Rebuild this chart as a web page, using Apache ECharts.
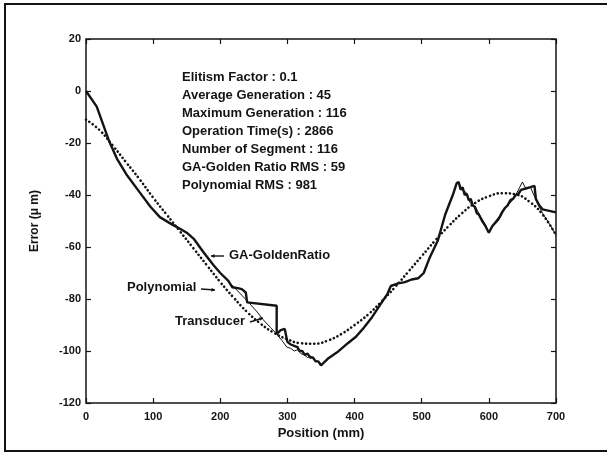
<!DOCTYPE html>
<html>
<head>
<meta charset="utf-8">
<script src="https://cdn.jsdelivr.net/npm/echarts@6/dist/echarts.min.js"></script>
<style>
html, body { margin: 0; padding: 0; background: #fff; }
#main { width: 607px; height: 454px; }
</style>
</head>
<body>
<div id="main"></div>
<script>
// position (mm), error (um)
var transducerData = [
	[0, 0], [16, -6], [34, -19], [46, -26], [60, -32], [80, -39], [96, -44.5], [110, -48.5],
	[126, -51], [140, -53], [150, -54.5], [161, -57], [175, -62], [190, -67], [200, -70],
	[215, -74], [230, -78], [241, -81], [255, -85], [264, -88], [275, -91], [284, -93.5],
	[292, -96], [299, -98.5], [305, -99], [310, -100], [315, -99.5], [320, -101], [325, -101.5],
	[330, -102.5], [335, -102], [340, -103.5], [345, -104], [350, -105.5], [360, -103],
	[374, -100.5], [390, -97], [402, -94.5], [414, -91], [426, -87], [440, -81.5], [449, -78],
	[454, -75], [465, -74], [475, -73.5], [485, -72.5], [495, -72], [503, -70], [512, -64],
	[524, -57.5], [535, -47.5], [547, -39.5], [552, -35.5], [555, -35], [560, -38], [566, -39],
	[572, -43], [580, -44.5], [587, -48], [595, -51.5], [600, -54.5], [606, -52], [614, -50],
	[620, -47], [627, -44], [632, -43], [638, -41], [642, -39], [646, -37], [650, -35],
	[655, -37.5], [662, -37], [667, -40], [674, -44], [680, -47], [690, -51], [700, -55.5]
];
var gaData = [
	[0, 0], [16, -6], [34, -19], [46, -26], [60, -32], [80, -39], [96, -44.5], [110, -48.5],
	[126, -51], [140, -53], [150, -54.5], [161, -57], [175, -62], [190, -67], [200, -70],
	[212, -73], [218, -75.5], [226, -75.8], [232, -76.2], [238, -77.5], [240, -81.3],
	[284, -82.6], [284, -93.5], [290, -92], [296, -91.5], [300, -96.5], [305, -97.5],
	[310, -98], [315, -98.5], [318, -100], [322, -100], [326, -101.5], [330, -101],
	[334, -102.5], [338, -102.5], [342, -104], [346, -104], [350, -105.5], [360, -103],
	[374, -100.5], [390, -97], [402, -94.5], [414, -91], [426, -87], [440, -81.5], [449, -78],
	[454, -75], [465, -74], [475, -73.5], [485, -72.5], [495, -72], [503, -70], [512, -64],
	[524, -57.5], [535, -47.5], [547, -39.5], [552, -35.5], [555, -35], [558, -38], [561, -37],
	[564, -40], [567, -39.5], [570, -42], [573, -41.5], [576, -44], [579, -44.5], [582, -47],
	[585, -47.5], [590, -50], [595, -52], [600, -54.5], [605, -52], [610, -50.5], [613, -49.5],
	[616, -48.5], [620, -46.5], [624, -45], [628, -44], [632, -42], [636, -41.5], [640, -40],
	[644, -39.5], [648, -38], [655, -37.5], [662, -37], [668, -36.5], [670, -41.5],
	[675, -44], [680, -45.5], [700, -46.7]
];
var polyData = [
	[0, -11], [20, -15], [40, -21], [60, -27.5], [80, -34], [100, -41], [120, -47.5],
	[140, -54], [160, -60.5], [180, -67], [200, -73.5], [220, -79.5], [240, -85],
	[260, -89.5], [280, -93], [300, -95.5], [320, -97], [340, -97.2], [360, -96],
	[380, -93.5], [400, -90], [420, -86], [440, -81], [460, -75.5], [480, -69.5],
	[500, -63.5], [520, -57.5], [540, -52], [560, -47], [580, -43], [600, -40.5],
	[620, -39.3], [640, -39.8], [660, -42.5], [680, -47.5], [700, -55.5]
];
var infoLines = [
	"Elitism Factor : 0.1",
	"Average Generation : 45",
	"Maximum Generation : 116",
	"Operation Time(s) : 2866",
	"Number of Segment : 116",
	"GA-Golden Ratio RMS : 59",
	"Polynomial RMS : 981"
];

var fontName = '"Liberation Sans", Arial, sans-serif';
var ink = '#141414';
var tickStyle = {inside: true, length: 5, lineStyle: {color: ink, width: 1.2}};

function hiddenAxis(pos) {
	return {
		type: 'value',
		position: pos,
		min: pos == 'top' ? 0 : -120,
		max: pos == 'top' ? 700 : 20,
		interval: pos == 'top' ? 100 : 20,
		axisLine: {show: false, onZero: false},
		axisTick: tickStyle,
		axisLabel: {show: false},
		splitLine: {show: false}
	};
}

// little arrows next to the annotations
function arrow(x1, y1, x2, y2) {
	var a = Math.atan2(y2 - y1, x2 - x1);
	var h = 4;
	return [{
		type: 'line', silent: true,
		shape: {x1: x1, y1: y1, x2: x2, y2: y2},
		style: {stroke: ink, lineWidth: 1.4}
	}, {
		type: 'polygon', silent: true,
		shape: {points: [
			[x2, y2],
			[x2 - h * Math.cos(a - 0.5), y2 - h * Math.sin(a - 0.5)],
			[x2 - h * Math.cos(a + 0.5), y2 - h * Math.sin(a + 0.5)]
		]},
		style: {fill: ink}
	}];
}

var labelFont = 'bold 13px ' + fontName;

var chart = echarts.init(document.getElementById('main'));
var option = {
	animation: false,
	backgroundColor: '#fff',
	grid: {
		left: 86, right: 51, top: 39, bottom: 51,
		show: true, borderColor: ink, borderWidth: 1.5
	},
	xAxis: [{
		type: 'value',
		min: 0, max: 700, interval: 100,
		name: 'Position (mm)',
		nameLocation: 'middle',
		nameGap: 24,
		nameTextStyle: {fontFamily: fontName, fontWeight: 'bold', fontSize: 13, color: ink},
		axisLine: {show: false, onZero: false},
		axisTick: tickStyle,
		axisLabel: {margin: 8, fontFamily: fontName, fontWeight: 'bold', fontSize: 11, color: ink},
		splitLine: {show: false}
	}, hiddenAxis('top')],
	yAxis: [{
		type: 'value',
		min: -120, max: 20, interval: 20,
		name: 'Error (\u03bc m)',
		nameLocation: 'middle',
		nameGap: 45,
		nameTextStyle: {fontFamily: fontName, fontWeight: 'bold', fontSize: 12, color: ink},
		axisLine: {show: false, onZero: false},
		axisTick: tickStyle,
		axisLabel: {margin: 5, fontFamily: fontName, fontWeight: 'bold', fontSize: 11, color: ink},
		splitLine: {show: false}
	}, hiddenAxis('right')],
	series: [{
		name: 'Polynomial',
		type: 'line',
		data: polyData,
		symbol: 'none',
		smooth: true,
		lineStyle: {color: ink, width: 2.6, type: [0.1, 4], cap: 'round'}
	}, {
		name: 'GA-GoldenRatio',
		type: 'line',
		data: gaData,
		symbol: 'none',
		lineStyle: {color: ink, width: 2.4}
	}, {
		name: 'Transducer',
		type: 'line',
		data: transducerData,
		symbol: 'none',
		lineStyle: {color: ink, width: 1}
	}],
	graphic: [{
		type: 'rect',
		silent: true,
		shape: {x: 5, y: 4, width: 612, height: 447},
		style: {fill: 'none', stroke: ink, lineWidth: 2}
	}, {
		type: 'text',
		x: 182, y: 68,
		style: {
			text: infoLines.join('\n'),
			font: labelFont,
			lineHeight: 18.1,
			fill: ink,
			verticalAlign: 'top'
		}
	}, {
		type: 'text',
		x: 229, y: 255,
		style: {text: 'GA-GoldenRatio', font: labelFont, fill: ink, verticalAlign: 'middle'}
	}, {
		type: 'text',
		x: 127, y: 287,
		style: {text: 'Polynomial', font: labelFont, fill: ink, verticalAlign: 'middle'}
	}, {
		type: 'text',
		x: 175, y: 321,
		style: {text: 'Transducer', font: labelFont, fill: ink, verticalAlign: 'middle'}
	}]
		.concat(arrow(224, 256, 211, 256))
		.concat(arrow(201, 289, 215, 290))
		.concat(arrow(250, 322, 263, 318))
};
chart.setOption(option);
</script>
</body>
</html>
